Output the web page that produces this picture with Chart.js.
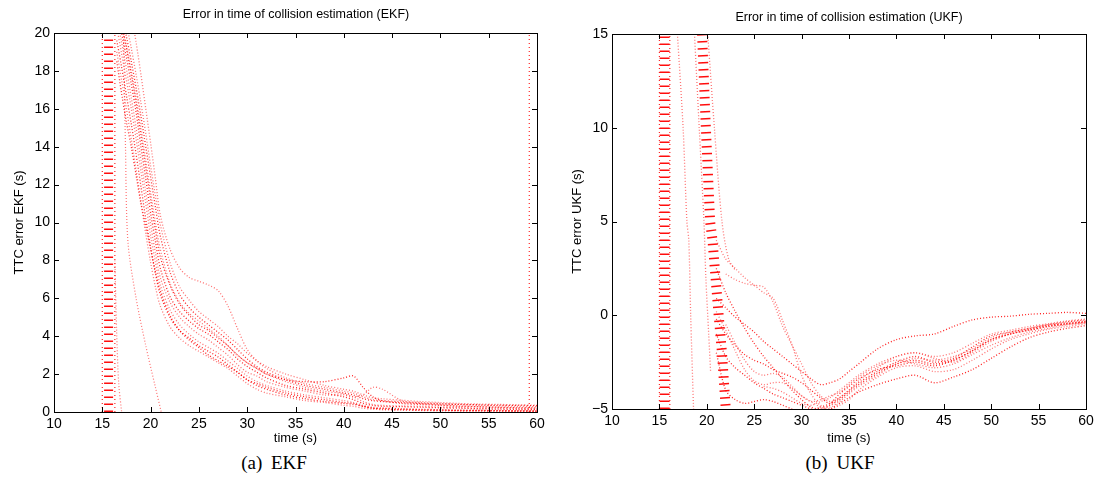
<!DOCTYPE html>
<html><head><meta charset="utf-8">
<script src="https://cdn.jsdelivr.net/npm/chart.js@4/dist/chart.umd.min.js"></script>
<style>
body{margin:0;background:#fff;width:1100px;height:497px;position:relative;overflow:hidden;font-family:"Liberation Sans",Arial,sans-serif}
canvas{position:absolute;top:0}
.ttl{position:absolute;font-size:12.5px;color:#000;white-space:nowrap;transform:translateX(-50%)}
.cap{position:absolute;font-family:"Liberation Serif",serif;font-size:19px;color:#000;white-space:nowrap;transform:translateX(-50%);word-spacing:4px}
</style></head><body>
<canvas id="c1" width="560" height="450" style="left:0"></canvas>
<canvas id="c2" width="540" height="450" style="left:560px"></canvas>
<div class="ttl" style="left:296px;top:7px">Error in time of collision estimation (EKF)</div>
<div class="ttl" style="left:849px;top:10px">Error in time of collision estimation (UKF)</div>
<div class="cap" style="left:274px;top:452px">(a) EKF</div>
<div class="cap" style="left:840px;top:452px">(b) UKF</div>
<script>
// ---------- axis ticks ----------
const xTicks = [10,15,20,25,30,35,40,45,50,55,60];
const ekfYTicks = [0,2,4,6,8,10,12,14,16,18,20];
const ukfYTicks = [-5,0,5,10,15];

// ---------- EKF runs (time grid + TTC error per run) ----------
const ekfTime = [16.5,17,17.5,18,18.5,19,19.5,20,20.5,21,22,23,24,25,26,27,28,29,30,31,32,34,36,38,40,41,42,43,44,46,48,50,52,54,56,58,60];
const ekfRunA = [21.5,20.0,18.7,17.3,15.8,14.0,12.3,10.5,9.0,7.6,6.1,5.3,4.8,4.4,4.1,3.7,3.3,2.8,2.4,2.1,1.8,1.4,1.2,1.0,0.8,0.65,0.45,0.35,0.3,0.28,0.25,0.22,0.2,0.17,0.15,0.13,0.12];
const ekfRunB = [20.3,18.9,17.5,16.0,14.4,12.7,11.0,9.3,7.9,6.7,5.4,4.6,4.1,3.7,3.4,3.1,2.7,2.3,1.9,1.6,1.4,1.1,0.9,0.75,0.6,0.5,0.35,0.25,0.2,0.18,0.15,0.12,0.1,0.1,0.08,0.07,0.06];
const ekfRunC = [null,21.0,19.8,18.5,17.1,15.6,14.0,12.4,10.8,9.3,7.4,6.2,5.5,5.0,4.6,4.2,3.8,3.3,2.8,2.4,2.1,1.7,1.4,1.2,1.0,0.9,0.7,0.6,0.55,0.5,0.45,0.42,0.4,0.38,0.36,0.35,0.33];
const ekfRunD = [null,null,null,21,19.5,17.8,16.0,14.2,12.3,10.4,8.6,7.6,7.1,6.9,6.7,6.4,5.6,4.4,3.3,2.7,2.3,1.8,1.5,1.3,1.1,1.0,0.8,0.65,0.6,0.55,0.5,0.45,0.4,0.36,0.33,0.3,0.28];
const ekfRunE = [19.0,17.5,16.0,14.4,12.8,11.1,9.4,7.9,6.6,5.6,4.5,3.9,3.5,3.2,2.9,2.6,2.3,1.9,1.5,1.2,1.0,0.8,0.6,0.5,0.35,0.3,0.2,0.15,0.12,0.1,0.08,0.06,0.05,0.05,0.04,0.04,0.03];
const ekfRunF = [null,20.6,19.2,17.8,16.3,14.6,12.9,11.2,9.6,8.2,6.7,5.7,5.1,4.6,4.3,3.9,3.5,3.0,2.6,2.3,2.0,1.7,1.6,1.6,1.8,1.9,1.3,0.8,0.6,0.45,0.4,0.35,0.3,0.28,0.25,0.22,0.2];
const ekfRunG = [20.8,19.5,18.1,16.6,15.0,13.3,11.6,9.9,8.4,7.1,5.8,5.0,4.5,4.1,3.8,3.4,3.0,2.5,2.1,1.9,1.6,1.3,1.1,0.9,0.9,0.8,0.9,1.3,1.2,0.6,0.45,0.38,0.32,0.28,0.25,0.24,0.22];
const ekfRunH = [18.5,16.8,15.3,14.0,12.5,11.0,9.8,8.6,7.4,6.4,5.1,4.3,3.8,3.4,3.0,2.7,2.4,2.1,1.7,1.4,1.2,0.9,0.7,0.55,0.45,0.4,0.3,0.2,0.15,0.12,0.1,0.1,0.08,0.07,0.06,0.05,0.05];
const ekfRunI = [null,20.4,19.3,18.0,16.6,15.0,13.3,11.6,10.0,8.6,6.8,5.8,5.2,4.8,4.4,4.0,3.5,3.0,2.6,2.3,2.0,1.6,1.3,1.1,0.95,0.8,0.55,0.4,0.35,0.32,0.3,0.26,0.24,0.2,0.2,0.18,0.15];
const ekfRunJ = [19.6,18.2,16.7,15.2,13.6,11.9,10.2,8.7,7.3,6.2,5.0,4.3,3.9,3.5,3.2,2.9,2.5,2.1,1.7,1.5,1.3,1.0,0.8,0.65,0.5,0.45,0.3,0.2,0.2,0.15,0.12,0.1,0.08,0.08,0.07,0.06,0.05];
const ekfRunK = [null,null,20.5,19.2,17.8,16.3,14.7,13.0,11.4,9.9,7.9,6.6,5.9,5.3,4.9,4.5,4.0,3.6,3.1,2.7,2.4,2.0,1.7,1.4,1.2,1.1,0.9,0.75,0.7,0.62,0.55,0.5,0.45,0.42,0.4,0.38,0.36];
const ekfThin1T = [17.2,17.4,17.65,18.5,19.5,20.5,21.1];
const ekfThin1V = [20,14,9,6,3.5,1.3,0];
const ekfThin2T = [16.3,16.5,16.7,17.0];
const ekfThin2V = [8,4,1.5,0];
const ekfBandT = [15.65,15.65];
const ekfBandV = [0,20];
const ekfEdgeT = [15.0,16.3,10.0,59.2];   // vertical dotted columns
const ekfEdgeV = [0,20];

// ---------- UKF runs ----------
const ukfTime = [21,22,23,24,25,26,27,28,29,30,31,32,33,34,35,36,38,40,42,44,46,48,50,52,54,56,58,60];
const ukfRun1 = [4.0,3.0,2.5,2.0,1.6,1.2,0.9,-0.3,-1.6,-3.2,-4.2,-4.8,-4.9,-4.6,-4.2,-3.8,-3.2,-2.6,-2.3,-2.4,-2.2,-1.8,-1.2,-0.9,-0.7,-0.5,-0.4,-0.3];
const ukfRun2 = [null,2.2,1.9,1.7,1.6,1.5,0.7,-0.6,-1.6,-2.6,-3.6,-4.3,-4.6,-4.4,-4.0,-3.5,-2.8,-2.2,-2.0,-2.3,-2.5,-2.0,-1.4,-1.0,-0.8,-0.6,-0.5,-0.4];
const ukfRun3 = [0.9,0.4,-0.1,-0.5,-0.9,-1.4,-1.8,-2.2,-2.6,-3.0,-3.4,-3.7,-3.6,-3.4,-3.0,-2.6,-1.8,-1.3,-1.1,-1.0,-0.6,-0.25,-0.1,-0.05,0.05,0.1,0.15,0.1];
const ukfRun4 = [-0.2,-1.0,-1.6,-2.1,-2.4,-2.6,-2.9,-3.1,-3.3,-3.6,-4.0,-4.4,-4.7,-4.4,-4.0,-3.6,-3.0,-2.5,-2.2,-2.5,-2.3,-1.7,-1.1,-0.9,-0.7,-0.5,-0.35,-0.25];
const ukfRun5 = [-1.0,-2.2,-2.8,-3.2,-3.6,-3.9,-4.2,-4.4,-4.6,-4.8,-5.0,-5.1,-5.0,-4.7,-4.4,-4.1,-3.7,-3.4,-3.2,-3.6,-3.3,-2.9,-2.3,-1.7,-1.2,-0.9,-0.7,-0.55];
const ukfRun6 = [null,-0.5,-1.5,-2.4,-3.0,-3.2,-3.1,-3.3,-3.8,-4.3,-4.6,-4.5,-4.3,-4.1,-3.7,-3.3,-2.7,-2.4,-2.6,-2.8,-2.6,-2.1,-1.6,-1.2,-0.9,-0.7,-0.5,-0.4];
const ukfRun7 = [-2.0,-4.0,-4.5,-4.7,-4.6,-4.5,-4.6,-4.8,-5.0,-5.1,-5.1,-4.9,-4.7,-4.2,-3.8,-3.4,-2.9,-2.7,-2.5,-2.7,-2.4,-1.9,-1.3,-1.0,-0.75,-0.55,-0.45,-0.35];
const ukfRun8 = [null,null,null,null,null,-3.8,-3.9,-4.1,-4.4,-4.7,-4.8,-4.6,-4.4,-4.0,-3.6,-3.2,-2.6,-2.2,-2.0,-2.2,-2.0,-1.5,-1.0,-0.8,-0.6,-0.45,-0.3,-0.2];
const ukfRun9 = [0.2,-0.8,-1.9,-2.9,-3.5,-3.7,-3.6,-3.6,-3.9,-4.3,-4.6,-4.9,-5.0,-4.8,-4.5,-4.0,-3.3,-2.8,-2.7,-3.0,-2.9,-2.4,-1.8,-1.3,-1.0,-0.75,-0.6,-0.45];
const ukfRun10 = [2.5,1.2,0.2,-0.7,-1.5,-2.2,-2.8,-3.4,-4.0,-4.5,-4.9,-5.0,-4.8,-4.5,-4.1,-3.7,-3.1,-2.6,-2.4,-2.6,-2.4,-1.9,-1.3,-1.0,-0.8,-0.6,-0.45,-0.35];
const ukfBand2T = [19.5,19.9,20.35,20.6,21.25,21.6,22.0];
const ukfBand2V = [15,10,5,4,0,-2,-5];
const ukfBand2LeftT = [18.7,19.2,19.7,19.9,20.2,20.4];
const ukfBand2LeftV = [15,10,5,2,-1,-3];
const ukfBand2RightT = [20.1,20.8,21.6,22.3,23.0];
const ukfBand2RightV = [15,10,5,3,2.4];
const ukfThinT = [16.9,17.5,17.9,18.1,18.3,18.6];
const ukfThinV = [15,10,5,4,0,-5];
const ukfBand1T = [15.55,15.55];
const ukfBand1V = [-5,15];
const ukfEdgeT = [15.0,16.1,10.0];
const ukfEdgeV = [-5,15];

// ---------- helpers ----------
function pts(xs, ys){ return xs.map((x,i)=>({x:x, y:ys[i]})); }
function run(xs, ys, color, width){
  return {data:pts(xs,ys), showLine:true, borderColor:color||'rgba(255,0,0,0.85)', borderWidth:width||1.3,
          borderDash:[1,2], pointRadius:0, tension:0.3, spanGaps:false, borderCapStyle:'butt'};
}
function band(xs, ys, width){
  return {data:pts(xs,ys), showLine:true, borderColor:'rgba(255,0,0,0.95)', borderWidth:width,
          borderDash:[1.5,5.5], pointRadius:0, tension:0, borderCapStyle:'butt'};
}
function column(x, ys){
  return {data:[{x:x,y:ys[0]},{x:x,y:ys[1]}], showLine:true, borderColor:'rgba(255,0,0,0.85)', borderWidth:1.2,
          borderDash:[1,3], pointRadius:0, borderCapStyle:'butt'};
}

const frame = {
  id:'frame',
  afterDatasetsDraw(chart){
    const {ctx, chartArea:a, scales:{x,y}} = chart;
    ctx.save();
    ctx.strokeStyle = '#000'; ctx.lineWidth = 1;
    ctx.strokeRect(Math.round(a.left)+0.5, Math.round(a.top)+0.5, Math.round(a.right-a.left), Math.round(a.bottom-a.top));
    ctx.beginPath();
    const L = 5;
    x.ticks.forEach(t=>{
      const px = Math.round(x.getPixelForValue(t.value))+0.5;
      ctx.moveTo(px, a.bottom); ctx.lineTo(px, a.bottom-L);
      ctx.moveTo(px, a.top); ctx.lineTo(px, a.top+L);
    });
    y.ticks.forEach(t=>{
      const py = Math.round(y.getPixelForValue(t.value))+0.5;
      ctx.moveTo(a.left, py); ctx.lineTo(a.left+L, py);
      ctx.moveTo(a.right, py); ctx.lineTo(a.right-L, py);
    });
    ctx.stroke();
    ctx.restore();
  }
};

const tickFont = {family:'"Liberation Sans", Arial, sans-serif', size:14};
const titleFont = {family:'"Liberation Sans", Arial, sans-serif', size:13};

function makeChart(id, datasets, c){
  return new Chart(document.getElementById(id), {
    type:'scatter',
    data:{datasets},
    options:{
      responsive:false, animation:false, events:[],
      layout:{padding:{top:c.top, right:c.right, left:0, bottom:0}},
      plugins:{legend:{display:false}, tooltip:{enabled:false}},
      scales:{
        x:{type:'linear', min:10, max:60,
           afterBuildTicks(s){ s.ticks = xTicks.map(v=>({value:v})); },
           ticks:{font:tickFont, color:'#000', padding:4, maxRotation:0, autoSkip:false},
           grid:{display:false, drawTicks:false}, border:{display:false},
           title:{display:true, text:'time (s)', font:titleFont, color:'#000', padding:{top:0, bottom:c.xtp}},
           afterFit(s){ s.height = c.xh; }},
        y:{type:'linear', min:c.ymin, max:c.ymax,
           afterBuildTicks(s){ s.ticks = c.yt.map(v=>({value:v})); },
           ticks:{font:tickFont, color:'#000', padding:4, autoSkip:false,
                  callback:(v)=>String(v).replace('-', '\u2212')},
           grid:{display:false, drawTicks:false}, border:{display:false},
           title:{display:true, text:c.ytitle, font:titleFont, color:'#000', padding:{top:c.ytp, bottom:0}},
           afterFit(s){ s.width = c.yw; }}
      }
    },
    plugins:[frame]
  });
}

const pink = 'rgba(255,40,40,0.65)';
const ekfSets = [
  ...ekfEdgeT.map(t=>column(t, ekfEdgeV)),
  band(ekfBandT, ekfBandV, 9),
  run(ekfThin1T, ekfThin1V, pink, 1.2),
  run(ekfThin2T, ekfThin2V, pink, 1.2),
  run(ekfTime, ekfRunA), run(ekfTime, ekfRunB, pink), run(ekfTime, ekfRunC),
  run(ekfTime, ekfRunD, pink), run(ekfTime, ekfRunE, pink), run(ekfTime, ekfRunF),
  run(ekfTime, ekfRunG, pink), run(ekfTime, ekfRunH),
  run(ekfTime, ekfRunI, pink), run(ekfTime, ekfRunJ), run(ekfTime, ekfRunK, pink)
];
const ukfSets = [
  ...ukfEdgeT.map(t=>column(t, ukfEdgeV)),
  band(ukfBand1T, ukfBand1V, 10),
  band(ukfBand2T, ukfBand2V, 10),
  run(ukfBand2LeftT, ukfBand2LeftV, pink),
  run(ukfBand2RightT, ukfBand2RightV, pink),
  run(ukfThinT, ukfThinV, pink),
  run(ukfTime, ukfRun1, pink), run(ukfTime, ukfRun2, pink), run(ukfTime, ukfRun3),
  run(ukfTime, ukfRun4), run(ukfTime, ukfRun5), run(ukfTime, ukfRun6, pink),
  run(ukfTime, ukfRun7), run(ukfTime, ukfRun8, pink),
  run(ukfTime, ukfRun9, pink), run(ukfTime, ukfRun10)
];

makeChart('c1', ekfSets, {top:33, right:23, xh:38, xtp:4, yw:54, ymin:0, ymax:20, yt:ekfYTicks, ytitle:'TTC error EKF (s)', ytp:12});
makeChart('c2', ukfSets, {top:34, right:14, xh:41, xtp:4, yw:52, ymin:-5, ymax:15, yt:ukfYTicks, ytitle:'TTC error UKF (s)', ytp:10});
</script>
</body></html>
